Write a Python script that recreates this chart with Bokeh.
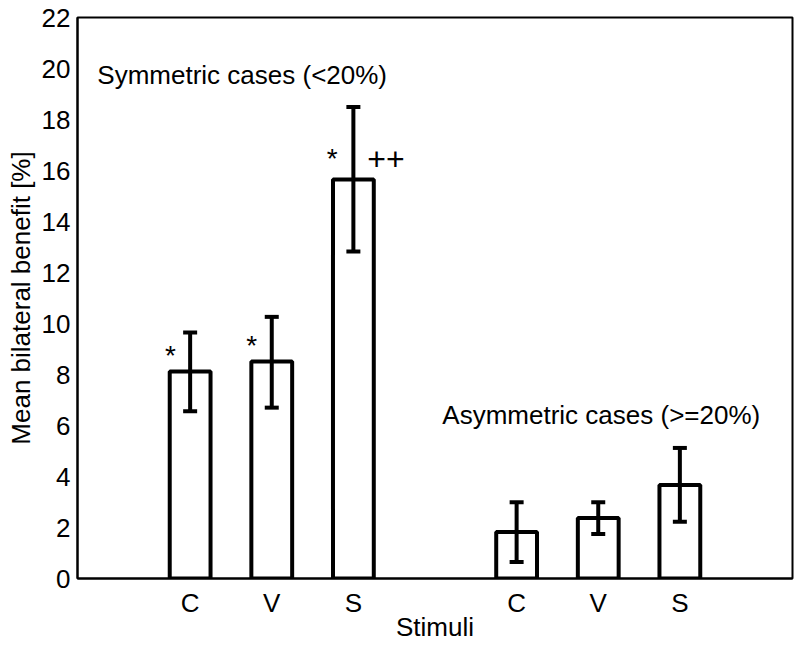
from bokeh.plotting import figure
from bokeh.models import ColumnDataSource, Whisker, TeeHead, FixedTicker, Range1d, Label
from bokeh.embed import file_html
from bokeh.resources import INLINE
from bokeh.core.properties import value

# ---- data ----
stimuli = ["C", "V", "S"]
groups = ["Symmetric cases (<20%)", "Asymmetric cases (>=20%)"]
positions = [1, 2, 3, 5, 6, 7]
tick_labels = ["C", "V", "S", "C", "V", "S"]
means = [8.12, 8.51, 15.65, 1.82, 2.37, 3.67]
err_upper = [9.65, 10.26, 18.49, 2.99, 2.99, 5.12]
err_lower = [6.56, 6.70, 12.82, 0.65, 1.75, 2.23]

star_x = [0.76, 1.755, 2.74]
star_y = [8.74, 9.13, 16.47]
plus_x = [3.40]
plus_y = [16.46]
plus_text = ["++"]

FONT = "Liberation Sans"

p = figure(width=796, height=644, min_border_left=77, min_border_top=17,
           min_border_right=4, min_border_bottom=0,
           x_range=Range1d(-0.38, 8.38), y_range=Range1d(0, 22),
           output_backend="svg", toolbar_location=None)

src = ColumnDataSource(dict(x=positions, top=means, upper=err_upper, lower=err_lower))

p.vbar(x="x", top="top", bottom=0, width=0.5, source=src,
       fill_color="white", line_color="black", line_width=4)

wh = Whisker(base="x", upper="upper", lower="lower", source=src, dimension="height",
             line_color="black", line_width=4, level="overlay",
             upper_head=TeeHead(size=14, line_width=4, line_color="black"),
             lower_head=TeeHead(size=14, line_width=4, line_color="black"))
p.add_layout(wh)

p.text(x=star_x, y=star_y, text=["*"] * len(star_x), text_font=value(FONT),
       text_font_size="28px", text_align="center", text_baseline="middle", text_color="black")
p.text(x=plus_x, y=plus_y, text=plus_text, text_font=value(FONT),
       text_font_size="32px", text_align="center", text_baseline="middle", text_color="black")

p.add_layout(Label(x=-0.137, y=19.73, text=groups[0], text_font=FONT,
                   text_font_size="26px", text_baseline="alphabetic", text_color="black"))
p.add_layout(Label(x=4.09, y=6.40, text=groups[1], text_font=FONT,
                   text_font_size="26px", text_baseline="alphabetic", text_color="black"))

p.xaxis.ticker = FixedTicker(ticks=positions)
p.xaxis.major_label_overrides = {pos: lab for pos, lab in zip(positions, tick_labels)}
p.yaxis.ticker = FixedTicker(ticks=list(range(0, 23, 2)))

p.xaxis.axis_label = "Stimuli"
p.yaxis.axis_label = "Mean bilateral benefit [%]"

for ax in (p.xaxis[0], p.yaxis[0]):
    ax.axis_line_width = 2
    ax.axis_line_color = "black"
    ax.major_tick_line_color = None
    ax.minor_tick_line_color = None
    ax.major_tick_out = 0
    ax.major_tick_in = 0
    ax.minor_tick_out = 0
    ax.major_label_text_font = FONT
    ax.major_label_text_font_size = "26px"
    ax.major_label_text_color = "black"
    ax.axis_label_text_font = FONT
    ax.axis_label_text_font_size = "26px"
    ax.axis_label_text_font_style = "normal"
    ax.axis_label_text_color = "black"

p.xaxis.major_label_standoff = 9
p.xaxis.axis_label_standoff = -9
p.yaxis.major_label_standoff = 7
p.yaxis.axis_label_standoff = 3

p.xgrid.grid_line_color = None
p.ygrid.grid_line_color = None
p.outline_line_color = "black"
p.outline_line_width = 2
p.outline_line_alpha = 1.0
p.background_fill_color = "white"
p.border_fill_color = "white"

open("out.html", "w").write(file_html(p, INLINE))
